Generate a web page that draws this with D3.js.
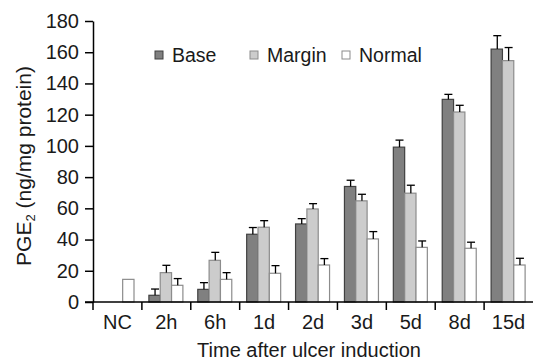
<!DOCTYPE html>
<html lang="en">
<head>
  <meta charset="UTF-8">
  <title>PGE2 bar chart</title>
  <style>
    body { margin: 0; background: #fff; }
    svg { font-family: "Liberation Sans", Arial, sans-serif; }
  </style>
</head>
<body>
  <svg id="chart"></svg>
  <script src="https://cdn.jsdelivr.net/npm/d3@7/dist/d3.min.js"></script>
  <script>
    var categories = ["NC", "2h", "6h", "1d", "2d", "3d", "5d", "8d", "15d"];
    var seriesNames = ["Base", "Margin", "Normal"];
    var baseVals   = [null, 4.3, 8.1, 43.4, 50, 74, 99.2, 129.8, 162];
    var baseErr    = [null, 4.0, 4.3, 4.3, 3.4, 4.0, 4.5, 3.2, 8.6];
    var marginVals = [null, 18.8, 26.7, 47.9, 59.6, 64.8, 69.7, 121.7, 154.6];
    var marginErr  = [null, 4.7, 5.1, 4.2, 3.4, 4.2, 5.1, 4.3, 8.4];
    var normalVals = [14.5, 10.7, 14.5, 18.4, 23.7, 40.4, 35, 34.4, 23.7];
    var normalErr  = [null, 4.3, 4.3, 4.9, 4.1, 4.7, 4.1, 3.9, 4.3];
    var yTicks = [0, 20, 40, 60, 80, 100, 120, 140, 160, 180];

    var fills = { Base: "#808080", Margin: "#cccccc", Normal: "#ffffff" };
    var strokes = { Base: "#404040", Margin: "#8c8c8c", Normal: "#8c8c8c" };

    var width = 533, height = 360;
    var plotLeft = 93, plotRight = 533, plotTop = 21, plotBottom = 302;

    var svg = d3.select("#chart").attr("width", width).attr("height", height);

    var x = d3.scaleBand().domain(categories).range([plotLeft, plotRight]).padding(0);
    var x1 = d3.scaleBand().domain(seriesNames).range([7, 41]).padding(0);
    var y = d3.scaleLinear().domain([0, 180]).range([plotBottom, plotTop]);

    // rows for bars
    var rows = [];
    categories.forEach(function (c, i) {
      [[baseVals, baseErr], [marginVals, marginErr], [normalVals, normalErr]].forEach(function (p, j) {
        if (p[0][i] != null) rows.push({ cat: c, s: seriesNames[j], v: p[0][i], e: p[1][i] });
      });
    });

    var bars = svg.append("g");
    bars.selectAll("rect")
      .data(rows)
      .enter()
      .append("rect")
      .attr("x", d => x(d.cat) + x1(d.s))
      .attr("y", d => y(d.v))
      .attr("width", x1.bandwidth())
      .attr("height", d => y(0) - y(d.v))
      .attr("fill", d => fills[d.s])
      .attr("stroke", d => strokes[d.s])
      .attr("stroke-width", 1.2);

    // error bars
    var err = svg.append("g").attr("stroke", "#000").attr("stroke-width", 1.3);
    rows.filter(d => d.e != null).forEach(function (d) {
      var cx = x(d.cat) + x1(d.s) + x1.bandwidth() / 2 + 0.5;
      err.append("line").attr("x1", cx).attr("x2", cx).attr("y1", y(d.v)).attr("y2", y(d.v + d.e));
      err.append("line").attr("x1", cx - 4).attr("x2", cx + 4).attr("y1", y(d.v + d.e)).attr("y2", y(d.v + d.e));
    });

    // y axis
    var yAxis = svg.append("g")
      .attr("transform", "translate(" + plotLeft + ",0)")
      .call(d3.axisLeft(y).tickValues(yTicks).tickSize(8).tickPadding(6).tickSizeOuter(0));
    yAxis.selectAll("text").attr("font-size", 20).attr("fill", "#1a1a1a").attr("font-family", "Liberation Sans, Arial, sans-serif");
    yAxis.selectAll("line, path").attr("stroke", "#000").attr("stroke-width", 1.5);

    // x axis with ticks at band boundaries
    var xAxis = svg.append("g")
      .attr("transform", "translate(0," + plotBottom + ")")
      .call(d3.axisBottom(x).tickSize(0).tickPadding(13).tickSizeOuter(0));
    xAxis.select("path").attr("d", "M" + (plotLeft - 8) + ",0H" + plotRight).attr("stroke", "#000").attr("stroke-width", 1.5);
    xAxis.selectAll("text").attr("font-size", 20).attr("fill", "#1a1a1a").attr("font-family", "Liberation Sans, Arial, sans-serif");
    xAxis.selectAll(".sep")
      .data(categories)
      .enter()
      .append("line")
      .attr("x1", d => x(d)).attr("x2", d => x(d))
      .attr("y1", 0).attr("y2", 8)
      .attr("stroke", "#000").attr("stroke-width", 1.5);

    // axis titles
    svg.append("text")
      .attr("x", 309).attr("y", 357)
      .attr("text-anchor", "middle")
      .attr("font-size", 20).attr("fill", "#1a1a1a")
      .text("Time after ulcer induction");

    var yt = svg.append("text")
      .attr("transform", "translate(31,166) rotate(-90)")
      .attr("text-anchor", "middle")
      .attr("font-size", 21).attr("fill", "#1a1a1a");
    yt.append("tspan").text("PGE");
    yt.append("tspan").attr("font-size", 13).attr("dy", 4).text("2");
    yt.append("tspan").attr("dy", -4).text(" (ng/mg protein)");

    // legend
    var legendX = [155, 250, 342];
    var legend = svg.append("g");
    seriesNames.forEach(function (s, i) {
      legend.append("rect")
        .attr("x", legendX[i]).attr("y", 51).attr("width", 8).attr("height", 8)
        .attr("fill", fills[s]).attr("stroke", strokes[s]).attr("stroke-width", 1);
      legend.append("text")
        .attr("x", legendX[i] + 17).attr("y", 62)
        .attr("font-size", 19.5).attr("fill", "#1a1a1a")
        .text(s);
    });
  </script>
</body>
</html>
